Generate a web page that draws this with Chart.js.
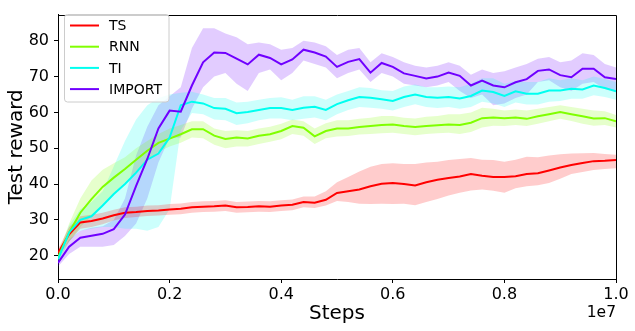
<!DOCTYPE html>
<html>
<head>
<meta charset="utf-8">
<script src="https://cdn.jsdelivr.net/npm/chart.js@4.4.0/dist/chart.umd.min.js"></script>
<style>
  html, body { margin: 0; padding: 0; background: #fff; }
</style>
</head>
<body>
<canvas id="chartReward" width="635" height="331"></canvas>
<script>
// x values in units of 1e7 steps
const steps = [0, 0.02, 0.04, 0.06, 0.08, 0.10, 0.12, 0.14, 0.16, 0.18,
  0.20, 0.22, 0.24, 0.26, 0.28, 0.30, 0.32, 0.34, 0.36, 0.38,
  0.40, 0.42, 0.44, 0.46, 0.48, 0.50, 0.52, 0.54, 0.56, 0.58,
  0.60, 0.62, 0.64, 0.66, 0.68, 0.70, 0.72, 0.74, 0.76, 0.78,
  0.80, 0.82, 0.84, 0.86, 0.88, 0.90, 0.92, 0.94, 0.96, 0.98, 1.00];

const seriesNames = ['TS', 'RNN', 'TI', 'IMPORT'];

const tsMean = [20.8, 26, 29.3, 29.7, 30.4, 31.3, 32, 32.2, 32.5, 32.6,
  32.9, 33.1, 33.5, 33.7, 33.8, 34, 33.5, 33.6, 33.8, 33.7,
  34, 34.2, 35, 34.8, 35.6, 37.5, 38, 38.5, 39.4, 40.1,
  40.3, 40, 39.6, 40.5, 41.2, 41.7, 42.1, 42.8, 42.3, 42,
  42, 42.2, 42.8, 43, 43.8, 44.6, 45.3, 45.9, 46.4, 46.5, 46.7];
const tsLow = [19.8, 24, 27.5, 28, 28.8, 29.8, 30.5, 30.8, 31.1, 31.2,
  31.4, 31.6, 32, 32.2, 32.3, 32.5, 32, 32.1, 32.3, 32.2,
  32.5, 32.7, 33.5, 33.3, 34, 35.3, 35, 34.5, 34.4, 34.5,
  34.4, 34.5, 34.1, 35, 35.8, 36.8, 37.6, 38.2, 38.5, 38.1,
  37.6, 38.8, 39.4, 39.7, 40.3, 41.5, 42.8, 43.4, 43.9, 44.2, 44.4];
const tsHigh = [21.8, 28, 31, 31.4, 32, 32.8, 33.5, 33.7, 34, 34.1,
  34.4, 34.6, 35, 35.2, 35.3, 35.5, 35, 35.1, 35.3, 35.2,
  35.5, 35.7, 36.5, 36.5, 38, 40.5, 42, 43.5, 44.8, 45.6,
  45.8, 45.6, 45.6, 46, 46.2, 46.7, 47, 47.3, 46.8, 46.7,
  46.2, 46.8, 47.6, 47.5, 48, 48.3, 48.5, 48.6, 48.7, 48.4, 48.2];

const rnnMean = [19.5, 26.5, 32, 35.8, 39.2, 41.8, 44.2, 46.8, 49.3, 51.5,
  52.7, 53.9, 55.3, 55.3, 53.5, 52.6, 53, 52.7, 53.5, 53.9,
  54.8, 56.2, 55.7, 53.3, 54.8, 55.5, 55.5, 55.9, 56.2, 56.5,
  56.6, 56.2, 55.9, 56.2, 56.4, 56.6, 56.5, 57.1, 58.4, 58.6,
  58.4, 58.6, 58.2, 58.9, 59.5, 60.1, 59.5, 58.9, 58.3, 58.4, 57.5];
const rnnLow = [18.5, 24, 28, 31, 34.5, 37.5, 40.5, 43.5, 46.5, 49,
  50.5, 51.5, 53, 52.8, 51, 50, 50.5, 50.5, 51.2, 51.8,
  52.5, 54, 53.5, 51.2, 52.8, 53.3, 53.4, 53.8, 54, 54.2,
  54.3, 54, 53.6, 54, 54.2, 54.3, 54, 54.5, 55.8, 56.3,
  56.2, 56.5, 56.2, 56.8, 57.5, 58.2, 57.6, 56.8, 56.3, 56.5, 55.8];
const rnnHigh = [20.5, 29, 36, 41, 44, 45.8, 47.5, 50, 52, 54,
  55.5, 56.5, 57.5, 57.5, 55.5, 54.8, 55, 54.8, 55.5, 56,
  56.8, 58, 57.5, 55.5, 57, 57.8, 57.8, 58.2, 58.5, 59,
  59, 58.5, 58.3, 58.8, 59, 59.5, 59.5, 60, 61.3, 61,
  60.5, 60.8, 60.5, 61, 61.5, 62, 61.5, 61, 60.5, 60.3, 59.3];

const tiMean = [19, 26.5, 30, 31, 34, 37.2, 40, 43.2, 46.8, 48.5,
  53, 62, 63, 62.5, 61.2, 61, 59.8, 60.1, 60.7, 61.2,
  61.2, 60.7, 61.3, 61.6, 60.7, 62.3, 63.4, 64.3, 64.1, 63.7,
  63.2, 64.3, 65, 64.3, 64.1, 64.3, 63.9, 64.6, 66.1, 65.7,
  64.6, 65.9, 65.2, 65.2, 66.1, 66.1, 66.6, 66.4, 67.5, 66.8, 65.9];
const tiLow = [18, 24, 27, 27.5, 28, 28, 27.5, 27.5, 27, 28,
  33, 55, 59.8, 59.5, 58, 57.8, 56.5, 57, 57.8, 58.3,
  58.3, 57.8, 58.2, 58.6, 57.8, 59.5, 60.7, 61.5, 61.3, 61,
  60.5, 61.5, 62.3, 61.5, 61.2, 61.5, 61, 61.5, 63, 62.5,
  61.5, 62.8, 62.2, 62.2, 63, 63.2, 63.8, 63.8, 64.8, 64.3, 63.5];
const tiHigh = [20, 28.5, 33, 35, 38, 45, 52, 58, 62, 64,
  65, 65.5, 65.8, 65, 64, 64, 62.8, 63, 63.5, 64,
  64.2, 63.5, 64.5, 64.5, 63.5, 65, 66, 67, 66.8, 66.2,
  66, 67.2, 67.8, 67, 67, 67.2, 67, 68, 69.5, 69.5,
  68, 68.8, 68.5, 68.5, 69.5, 69, 69.5, 69, 70, 69.3, 68.5];

const importMean = [18, 22.5, 25, 25.6, 26.1, 27.4, 31.5, 39.5, 47, 55.5,
  60.5, 60.2, 67.5, 74, 76.7, 76.6, 75, 73.4, 76.1, 75.2,
  73.4, 74.8, 77.5, 76.7, 75.6, 72.7, 74.1, 74.9, 71.1, 73.8,
  72.7, 70.9, 70.2, 69.5, 70, 71.1, 70.2, 67.5, 68.9, 67.5,
  67, 68.4, 69.3, 71.6, 72, 70.4, 69.8, 72.2, 72.2, 69.8, 69.3];
const importLow = [17, 20.5, 22.5, 22.5, 22.5, 23, 25.5, 29, 36, 46,
  53, 53, 61, 67, 70, 71, 68, 66, 71, 72,
  69, 71, 74.5, 73.5, 72.5, 69.5, 71, 72, 68.5, 71,
  70, 68, 67.5, 67, 67.5, 68.5, 66, 64, 65, 62,
  62.5, 64, 65, 68.5, 69, 67, 66, 68, 68.5, 66.5, 66];
const importHigh = [19, 24.5, 27, 27.8, 28.2, 30, 36, 48, 56, 62,
  64.5, 67, 78, 83.5, 83.5, 82, 81, 79, 79.5, 79,
  77.5, 78, 80, 79.5, 78.5, 76, 77.5, 78, 74, 76.5,
  75.5, 74, 73, 72.5, 73, 74, 73, 70.5, 72, 71,
  71.5, 72.5, 73.5, 75, 75.5, 74, 74.5, 76.5, 76, 73.5, 72.5];

const xTicks = [0, 0.2, 0.4, 0.6, 0.8, 1.0];
const yTicks = [20, 30, 40, 50, 60, 70, 80];

const lineColors = ['#ff0000', '#80ff00', '#00fff0', '#7000ff'];
const bandColors = ['rgba(255,0,0,0.2)', 'rgba(128,255,0,0.2)', 'rgba(0,255,240,0.2)', 'rgba(112,0,255,0.2)'];

const means = [tsMean, rnnMean, tiMean, importMean];
const lows = [tsLow, rnnLow, tiLow, importLow];
const highs = [tsHigh, rnnHigh, tiHigh, importHigh];

function pts(arr) {
    return steps.map((s, i) => ({ x: s, y: arr[i] }));
}

let datasets = [];
for (let i = 0; i < seriesNames.length; i++) {
    datasets.push({
        label: seriesNames[i] + ' low',
        data: pts(lows[i]),
        borderWidth: 0,
        pointRadius: 0,
        fill: false,
        order: 20 + i
    });
    datasets.push({
        label: seriesNames[i] + ' high',
        data: pts(highs[i]),
        borderWidth: 0,
        pointRadius: 0,
        backgroundColor: bandColors[i],
        fill: '-1',
        order: 20 + i
    });
}
for (let i = 0; i < seriesNames.length; i++) {
    datasets.push({
        label: seriesNames[i],
        data: pts(means[i]),
        borderColor: lineColors[i],
        borderWidth: 2,
        pointRadius: 0,
        fill: false,
        tension: 0,
        order: 10 - i
    });
}

// top/right spines, legend box and the 1e7 offset text
const extras = {
    id: 'extras',
    afterDraw(chart) {
        const ctx = chart.ctx;
        const a = chart.chartArea;
        ctx.save();
        ctx.strokeStyle = '#000';
        ctx.lineWidth = 1;
        ctx.beginPath();
        ctx.moveTo(Math.round(a.left) + 0.5, Math.round(a.top) + 0.5);
        ctx.lineTo(Math.round(a.right) + 0.5, Math.round(a.top) + 0.5);
        ctx.lineTo(Math.round(a.right) + 0.5, Math.round(a.bottom) + 0.5);
        ctx.stroke();

        // legend
        ctx.fillStyle = 'rgba(255,255,255,0.8)';
        ctx.strokeStyle = '#cccccc';
        ctx.beginPath();
        ctx.roundRect(64.5, 14.5, 104.5, 87.5, 3);
        ctx.fill();
        ctx.stroke();
        ctx.font = '14px "DejaVu Sans"';
        ctx.textBaseline = 'middle';
        ctx.textAlign = 'left';
        for (let i = 0; i < seriesNames.length; i++) {
            const y = 25.5 + i * 21.2;
            ctx.strokeStyle = lineColors[i];
            ctx.lineWidth = 2;
            ctx.beginPath();
            ctx.moveTo(70, y);
            ctx.lineTo(99, y);
            ctx.stroke();
            ctx.fillStyle = '#000';
            ctx.fillText(seriesNames[i], 109, y + 1);
        }

        ctx.font = '15.5px "DejaVu Sans"';
        ctx.textAlign = 'right';
        ctx.textBaseline = 'alphabetic';
        ctx.fillStyle = '#000';
        ctx.fillText('1e7', 616, 317);
        ctx.restore();
    }
};

Chart.defaults.font.family = '"DejaVu Sans"';
Chart.defaults.color = '#000';

let chartReward = new Chart(document.getElementById('chartReward'), {
    type: 'line',
    data: { datasets: datasets },
    options: {
        responsive: false,
        animation: false,
        layout: { padding: { left: 0, right: 19, top: 7, bottom: 0 } },
        plugins: {
            legend: { display: false },
            tooltip: { enabled: false }
        },
        scales: {
            x: {
                type: 'linear',
                min: 0,
                max: 1,
                afterBuildTicks: function (axis) {
                    axis.ticks = xTicks.map(v => ({ value: v }));
                },
                afterFit: function (scale) { scale.height = 52; },
                ticks: {
                    font: { size: 16 },
                    padding: 2,
                    maxRotation: 0,
                    callback: v => v.toFixed(1)
                },
                grid: { drawOnChartArea: false, drawTicks: true, tickLength: 4, color: '#000' },
                border: { display: true, color: '#000', width: 1 },
                title: { display: true, text: 'Steps', font: { size: 20 }, padding: { top: 0, bottom: 5 } }
            },
            y: {
                type: 'linear',
                min: 13.5,
                max: 87.3,
                afterBuildTicks: function (axis) {
                    axis.ticks = yTicks.map(v => ({ value: v }));
                },
                afterFit: function (scale) { scale.width = 58; },
                ticks: {
                    font: { size: 16 },
                    padding: 5,
                    callback: v => String(v)
                },
                grid: { drawOnChartArea: false, drawTicks: true, tickLength: 4, color: '#000' },
                border: { display: true, color: '#000', width: 1 },
                title: { display: true, text: 'Test reward', font: { size: 20 }, padding: { top: 5, bottom: 0 } }
            }
        }
    },
    plugins: [extras]
});
</script>
</body>
</html>
